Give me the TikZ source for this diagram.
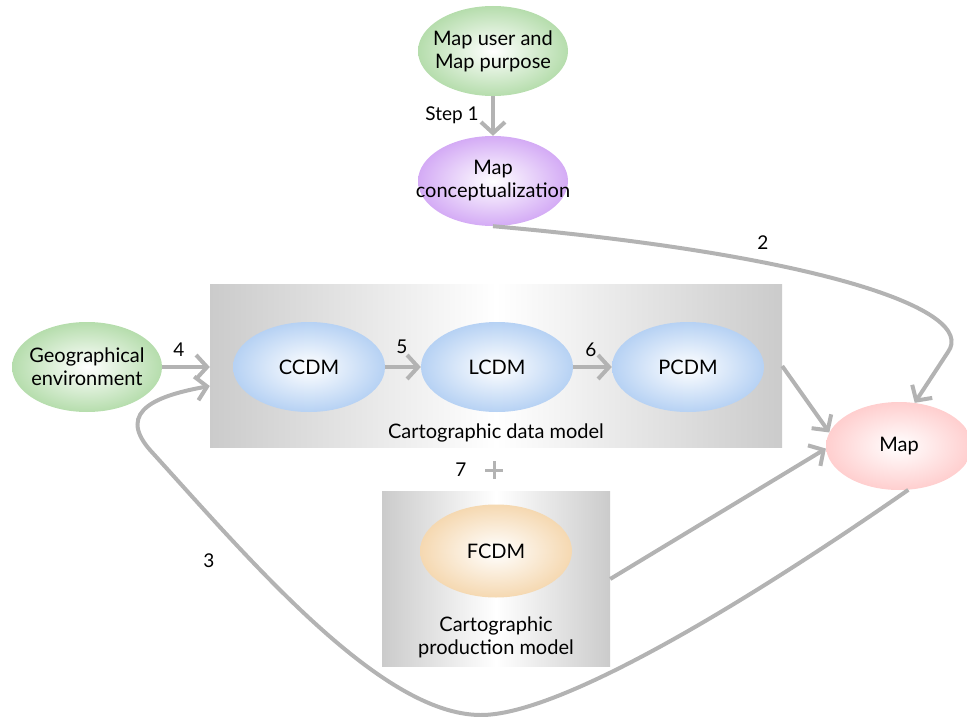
\documentclass[tikz,border=0pt]{standalone}
\usepackage{fontspec}
\setmainfont{Lato}
\usetikzlibrary{arrows.meta,shapes.geometric}

% palette
\definecolor{leafgreen}{HTML}{9ED292}
\definecolor{lilac}{HTML}{C690F2}
\definecolor{skyblue}{HTML}{9FC3F0}
\definecolor{sand}{HTML}{F2CC98}
\definecolor{blush}{HTML}{FFBFBF}
\definecolor{boxgray}{HTML}{B0B0B0}
\definecolor{arrowgray}{HTML}{B3B3B3}

% soft glow fills for the ellipses
\pgfdeclareradialshading{glowgreen}{\pgfpoint{0bp}{0bp}}{color(0bp)=(white); color(33bp)=(leafgreen); color(50bp)=(leafgreen)}
\pgfdeclareradialshading{glowlilac}{\pgfpoint{0bp}{0bp}}{color(0bp)=(white); color(33bp)=(lilac); color(50bp)=(lilac)}
\pgfdeclareradialshading{glowblue}{\pgfpoint{0bp}{0bp}}{color(0bp)=(white); color(33bp)=(skyblue); color(50bp)=(skyblue)}
\pgfdeclareradialshading{glowsand}{\pgfpoint{0bp}{0bp}}{color(0bp)=(white); color(33bp)=(sand); color(50bp)=(sand)}
\pgfdeclareradialshading{glowblush}{\pgfpoint{0bp}{0bp}}{color(0bp)=(white); color(33bp)=(blush); color(50bp)=(blush)}
% grey-white-grey fade for the two model panels
\pgfdeclarehorizontalshading{boxfade}{100bp}{color(0bp)=(boxgray); color(12bp)=(boxgray); color(50bp)=(white); color(88bp)=(boxgray); color(100bp)=(boxgray)}

% a text line that does not widen its ellipse
\newcommand\flush[1]{\makebox[0pt][c]{#1}}

\tikzset{
  bubble/.style={ellipse, minimum width=150pt, minimum height=90pt, inner sep=0pt,
    align=center, font=\fontsize{20}{23}\selectfont, shade, shading=#1},
  panel/.style={rectangle, inner sep=0pt, shade, shading=boxfade},
  caption/.style={align=center, font=\fontsize{20}{23}\selectfont},
  num/.style={font=\fontsize{19}{20}\selectfont},
  flow/.style={draw=arrowgray, line width=4pt,
    -{Straight Barb[length=11pt,width=24pt]}},
}

\begin{document}
\begin{tikzpicture}[x=1pt,y=-1pt]
\useasboundingbox (0,0) rectangle (967,717);

% model panels
\node[panel, minimum width=572pt, minimum height=163pt] (dbox) at (496,366) {};
\node[panel, minimum width=228pt, minimum height=175pt] (pbox) at (496,579) {};

% ellipses
\node[bubble=glowgreen] (user) at (493,51) {\flush{Map user and}\\\flush{Map purpose}};
\node[bubble=glowlilac] (concept) at (493,181) {\flush{Map}\\\flush{conceptualization}};
\node[bubble=glowgreen] (geo) at (87,367) {\flush{Geographical}\\\flush{environment}};
\node[bubble=glowblue, minimum width=152pt] (ccdm) at (309,367) {CCDM};
\node[bubble=glowblue, minimum width=152pt] (lcdm) at (497,367) {LCDM};
\node[bubble=glowblue, minimum width=152pt] (pcdm) at (688,367) {PCDM};
\node[bubble=glowsand, minimum width=152pt, minimum height=93pt] (fcdm) at (496,551) {FCDM};
\node[bubble=glowblush, minimum width=146pt, minimum height=88pt] (map) at (899,446) {Map};

% panel captions
\node[caption] (dcap) at (496,433) {Cartographic data model};
\node[caption] (pcap) at (496,637) {Cartographic\\production model};

% connectors
\draw[flow] (user.south) -- (concept.north);
\draw[flow] (concept.south) .. controls (820,255) and (978,310) .. (948,352) -- (map.70);
\draw[flow] (geo.east) -- (geo.east -| dbox.west);
\draw[flow] (ccdm.east) -- (lcdm.west);
\draw[flow] (lcdm.east) -- (pcdm.west);
\draw[flow] (dbox.east) -- (map.169);
\draw[flow] (pbox.east) -- (map.182);
\draw[flow] (map.-78) .. controls (750,600) and (560,716) .. (480,715)
  .. controls (380,714) and (250,560) .. (150,450)
  .. controls (115,410) and (160,395) .. ([yshift=-20pt]dbox.west);

% plus sign between the panels
\draw[arrowgray, line width=3pt] (485,470) -- (503,470) (494,461) -- (494,479);

% step labels
\node[num] (s1) at (452,115) {Step 1};
\node[num] (s2) at (763,243) {2};
\node[num] (s3) at (209,561) {3};
\node[num] (s4) at (179,350) {4};
\node[num] (s5) at (402,347) {5};
\node[num] (s6) at (591,350) {6};
\node[num] (s7) at (461,470) {7};
\end{tikzpicture}
\end{document}
